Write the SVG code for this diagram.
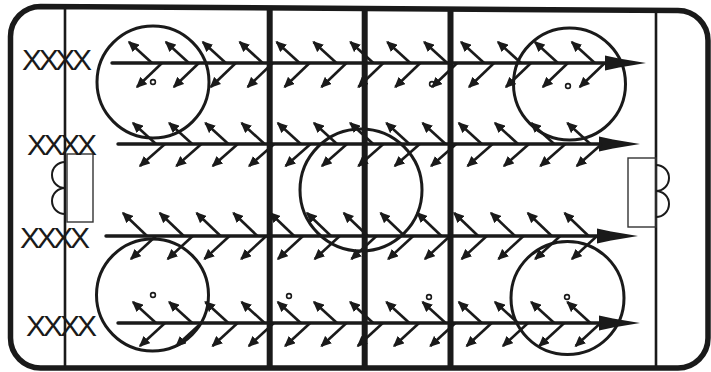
<svg xmlns="http://www.w3.org/2000/svg" xmlns:xlink="http://www.w3.org/1999/xlink" width="711" height="372" viewBox="0 0 711 372">
<style>
.border{fill:none;stroke:#1a1a1a;stroke-width:5.5}
.thin{stroke:#1a1a1a;stroke-width:2.6;fill:none}
.thick{stroke:#1a1a1a;stroke-width:6;fill:none}
.circ{fill:none;stroke:#1a1a1a;stroke-width:3}
.net{fill:none;stroke:#333;stroke-width:1.4}
.bump{fill:none;stroke:#1a1a1a;stroke-width:2}
.dot{fill:#fff;stroke:#1a1a1a;stroke-width:1.6}
.main{stroke:#1a1a1a;stroke-width:3.4;fill:none;stroke-linecap:round}
.head{fill:#1a1a1a}
.sa{stroke:#1a1a1a;stroke-width:2.6;fill:none;marker-end:url(#ah)}
.lab{font-family:"Liberation Sans",Arial,sans-serif;font-size:30px;fill:#1a1a1a}
</style>
<defs>
<marker id="ah" markerUnits="userSpaceOnUse" markerWidth="11" markerHeight="10" viewBox="0 0 11 10" refX="9.5" refY="5" orient="auto">
<path d="M0,0 L11,5 L0,10 z" fill="#1a1a1a"/>
</marker>
</defs>
<rect width="711" height="372" fill="#fff"/>
<g id="rink">
<path class="border" d="M40.5,6.5 L678,10.5 A30,30 0 0 1 708,40.5 L708,338 A30,30 0 0 1 678,368 L40.5,368 A30,30 0 0 1 10.5,338 L10.5,36.5 A30,30 0 0 1 40.5,6.5 Z"/>
<line class="thin" x1="65" y1="7" x2="65" y2="367"/>
<line class="thin" x1="656" y1="10" x2="656" y2="367"/>
<line class="thick" x1="269.7" y1="8" x2="269.7" y2="367"/>
<line class="thick" x1="364.7" y1="8" x2="364.7" y2="367"/>
<line class="thick" x1="450.5" y1="9" x2="450.5" y2="367"/>
</g>
<g id="goals">
<rect class="net" x="67" y="154" width="26" height="68"/>
<path class="bump" d="M65,162 A13,13 0 0 0 65,188 A13,13 0 0 0 65,214"/>
<rect class="net" x="628" y="158" width="28" height="69"/>
<path class="bump" d="M656,165 A13,13 0 0 1 656,191 A13,13 0 0 1 656,217"/>
</g>
<g id="circles">
<circle class="circ" cx="153" cy="82" r="56"/>
<circle class="circ" cx="569.5" cy="84" r="56"/>
<circle class="circ" cx="361" cy="190" r="61"/>
<circle class="circ" cx="152.5" cy="295" r="56"/>
<circle class="circ" cx="567.5" cy="298" r="56.5"/>
</g>
<g id="dots">
<circle class="dot" cx="153" cy="82" r="2.4"/>
<circle class="dot" cx="568" cy="86" r="2.4"/>
<circle class="dot" cx="432" cy="84" r="2.4"/>
<circle class="dot" cx="153" cy="295" r="2.4"/>
<circle class="dot" cx="567" cy="297" r="2.4"/>
<circle class="dot" cx="289" cy="296" r="2.4"/>
<circle class="dot" cx="429" cy="297" r="2.4"/>
</g>
<g id="labels">
<text class="lab" x="22" y="70" textLength="70" lengthAdjust="spacing">XXXX</text>
<text class="lab" x="27" y="154.5" textLength="70" lengthAdjust="spacing">XXXX</text>
<text class="lab" x="20" y="248" textLength="70" lengthAdjust="spacing">XXXX</text>
<text class="lab" x="26" y="336" textLength="71" lengthAdjust="spacing">XXXX</text>
</g>
<g id="connectors">
<g id="main-arrows">
<line class="main" x1="112" y1="63" x2="607" y2="63"/>
<polygon class="head" points="605,55.5 619,58.5 646,63 619,67.5 605,70.5"/>
<line class="main" x1="118" y1="144" x2="601" y2="144"/>
<polygon class="head" points="599,136.5 613,139.5 640,144 613,148.5 599,151.5"/>
<line class="main" x1="106" y1="236" x2="599" y2="236"/>
<polygon class="head" points="597,228.5 611,231.5 638,236 611,240.5 597,243.5"/>
<line class="main" x1="118" y1="323" x2="601" y2="323"/>
<polygon class="head" points="599,315.5 613,318.5 640,323 613,327.5 599,330.5"/>
</g>
<g id="row1">
<line class="sa" x1="152" y1="63" x2="129" y2="42"/>
<line class="sa" x1="188.9" y1="63" x2="165.9" y2="42"/>
<line class="sa" x1="225.8" y1="63" x2="202.8" y2="42"/>
<line class="sa" x1="262.7" y1="63" x2="239.7" y2="42"/>
<line class="sa" x1="299.6" y1="63" x2="276.6" y2="42"/>
<line class="sa" x1="336.5" y1="63" x2="313.5" y2="42"/>
<line class="sa" x1="373.4" y1="63" x2="350.4" y2="42"/>
<line class="sa" x1="410.3" y1="63" x2="387.3" y2="42"/>
<line class="sa" x1="447.2" y1="63" x2="424.2" y2="42"/>
<line class="sa" x1="484.1" y1="63" x2="461.1" y2="42"/>
<line class="sa" x1="521" y1="63" x2="498" y2="42"/>
<line class="sa" x1="557.9" y1="63" x2="534.9" y2="42"/>
<line class="sa" x1="594.8" y1="63" x2="571.8" y2="42"/>
<line class="sa" x1="162" y1="63" x2="137" y2="87"/>
<line class="sa" x1="198.9" y1="63" x2="173.9" y2="87"/>
<line class="sa" x1="235.8" y1="63" x2="210.8" y2="87"/>
<line class="sa" x1="272.7" y1="63" x2="247.7" y2="87"/>
<line class="sa" x1="309.6" y1="63" x2="284.6" y2="87"/>
<line class="sa" x1="346.5" y1="63" x2="321.5" y2="87"/>
<line class="sa" x1="383.4" y1="63" x2="358.4" y2="87"/>
<line class="sa" x1="420.3" y1="63" x2="395.3" y2="87"/>
<line class="sa" x1="457.2" y1="63" x2="432.2" y2="87"/>
<line class="sa" x1="494.1" y1="63" x2="469.1" y2="87"/>
<line class="sa" x1="531" y1="63" x2="506" y2="87"/>
<line class="sa" x1="567.9" y1="63" x2="542.9" y2="87"/>
<line class="sa" x1="604.8" y1="63" x2="579.8" y2="87"/>
</g>
<g id="row2">
<line class="sa" x1="156" y1="144" x2="133" y2="123"/>
<line class="sa" x1="192.2" y1="144" x2="169.2" y2="123"/>
<line class="sa" x1="228.4" y1="144" x2="205.4" y2="123"/>
<line class="sa" x1="264.6" y1="144" x2="241.6" y2="123"/>
<line class="sa" x1="300.8" y1="144" x2="277.8" y2="123"/>
<line class="sa" x1="337" y1="144" x2="314" y2="123"/>
<line class="sa" x1="373.2" y1="144" x2="350.2" y2="123"/>
<line class="sa" x1="409.4" y1="144" x2="386.4" y2="123"/>
<line class="sa" x1="445.6" y1="144" x2="422.6" y2="123"/>
<line class="sa" x1="481.8" y1="144" x2="458.8" y2="123"/>
<line class="sa" x1="518" y1="144" x2="495" y2="123"/>
<line class="sa" x1="554.2" y1="144" x2="531.2" y2="123"/>
<line class="sa" x1="590.4" y1="144" x2="567.4" y2="123"/>
<line class="sa" x1="165" y1="144" x2="140" y2="166"/>
<line class="sa" x1="201.4" y1="144" x2="176.4" y2="166"/>
<line class="sa" x1="237.8" y1="144" x2="212.8" y2="166"/>
<line class="sa" x1="274.2" y1="144" x2="249.2" y2="166"/>
<line class="sa" x1="310.6" y1="144" x2="285.6" y2="166"/>
<line class="sa" x1="347" y1="144" x2="322" y2="166"/>
<line class="sa" x1="383.4" y1="144" x2="358.4" y2="166"/>
<line class="sa" x1="419.8" y1="144" x2="394.8" y2="166"/>
<line class="sa" x1="456.2" y1="144" x2="431.2" y2="166"/>
<line class="sa" x1="492.6" y1="144" x2="467.6" y2="166"/>
<line class="sa" x1="529" y1="144" x2="504" y2="166"/>
<line class="sa" x1="565.4" y1="144" x2="540.4" y2="166"/>
<line class="sa" x1="601.8" y1="144" x2="576.8" y2="166"/>
</g>
<g id="row3">
<line class="sa" x1="147" y1="236" x2="123" y2="213"/>
<line class="sa" x1="183.8" y1="236" x2="159.8" y2="213"/>
<line class="sa" x1="220.6" y1="236" x2="196.6" y2="213"/>
<line class="sa" x1="257.4" y1="236" x2="233.4" y2="213"/>
<line class="sa" x1="294.2" y1="236" x2="270.2" y2="213"/>
<line class="sa" x1="331" y1="236" x2="307" y2="213"/>
<line class="sa" x1="367.8" y1="236" x2="343.8" y2="213"/>
<line class="sa" x1="404.6" y1="236" x2="380.6" y2="213"/>
<line class="sa" x1="441.4" y1="236" x2="417.4" y2="213"/>
<line class="sa" x1="478.2" y1="236" x2="454.2" y2="213"/>
<line class="sa" x1="515" y1="236" x2="491" y2="213"/>
<line class="sa" x1="551.8" y1="236" x2="527.8" y2="213"/>
<line class="sa" x1="588.6" y1="236" x2="564.6" y2="213"/>
<line class="sa" x1="156" y1="236" x2="131" y2="259"/>
<line class="sa" x1="192.75" y1="236" x2="167.75" y2="259"/>
<line class="sa" x1="229.5" y1="236" x2="204.5" y2="259"/>
<line class="sa" x1="266.25" y1="236" x2="241.25" y2="259"/>
<line class="sa" x1="303" y1="236" x2="278" y2="259"/>
<line class="sa" x1="339.75" y1="236" x2="314.75" y2="259"/>
<line class="sa" x1="376.5" y1="236" x2="351.5" y2="259"/>
<line class="sa" x1="413.25" y1="236" x2="388.25" y2="259"/>
<line class="sa" x1="450" y1="236" x2="425" y2="259"/>
<line class="sa" x1="486.75" y1="236" x2="461.75" y2="259"/>
<line class="sa" x1="523.5" y1="236" x2="498.5" y2="259"/>
<line class="sa" x1="560.25" y1="236" x2="535.25" y2="259"/>
<line class="sa" x1="597" y1="236" x2="572" y2="259"/>
</g>
<g id="row4">
<line class="sa" x1="156" y1="323" x2="133" y2="302"/>
<line class="sa" x1="192.2" y1="323" x2="169.2" y2="302"/>
<line class="sa" x1="228.4" y1="323" x2="205.4" y2="302"/>
<line class="sa" x1="264.6" y1="323" x2="241.6" y2="302"/>
<line class="sa" x1="300.8" y1="323" x2="277.8" y2="302"/>
<line class="sa" x1="337" y1="323" x2="314" y2="302"/>
<line class="sa" x1="373.2" y1="323" x2="350.2" y2="302"/>
<line class="sa" x1="409.4" y1="323" x2="386.4" y2="302"/>
<line class="sa" x1="445.6" y1="323" x2="422.6" y2="302"/>
<line class="sa" x1="481.8" y1="323" x2="458.8" y2="302"/>
<line class="sa" x1="518" y1="323" x2="495" y2="302"/>
<line class="sa" x1="554.2" y1="323" x2="531.2" y2="302"/>
<line class="sa" x1="590.4" y1="323" x2="567.4" y2="302"/>
<line class="sa" x1="165" y1="323" x2="140" y2="346"/>
<line class="sa" x1="201.3" y1="323" x2="176.3" y2="346"/>
<line class="sa" x1="237.6" y1="323" x2="212.6" y2="346"/>
<line class="sa" x1="273.9" y1="323" x2="248.9" y2="346"/>
<line class="sa" x1="310.2" y1="323" x2="285.2" y2="346"/>
<line class="sa" x1="346.5" y1="323" x2="321.5" y2="346"/>
<line class="sa" x1="382.8" y1="323" x2="357.8" y2="346"/>
<line class="sa" x1="419.1" y1="323" x2="394.1" y2="346"/>
<line class="sa" x1="455.4" y1="323" x2="430.4" y2="346"/>
<line class="sa" x1="491.7" y1="323" x2="466.7" y2="346"/>
<line class="sa" x1="528" y1="323" x2="503" y2="346"/>
<line class="sa" x1="564.3" y1="323" x2="539.3" y2="346"/>
<line class="sa" x1="600.6" y1="323" x2="575.6" y2="346"/>
</g>
</g>
</svg>
